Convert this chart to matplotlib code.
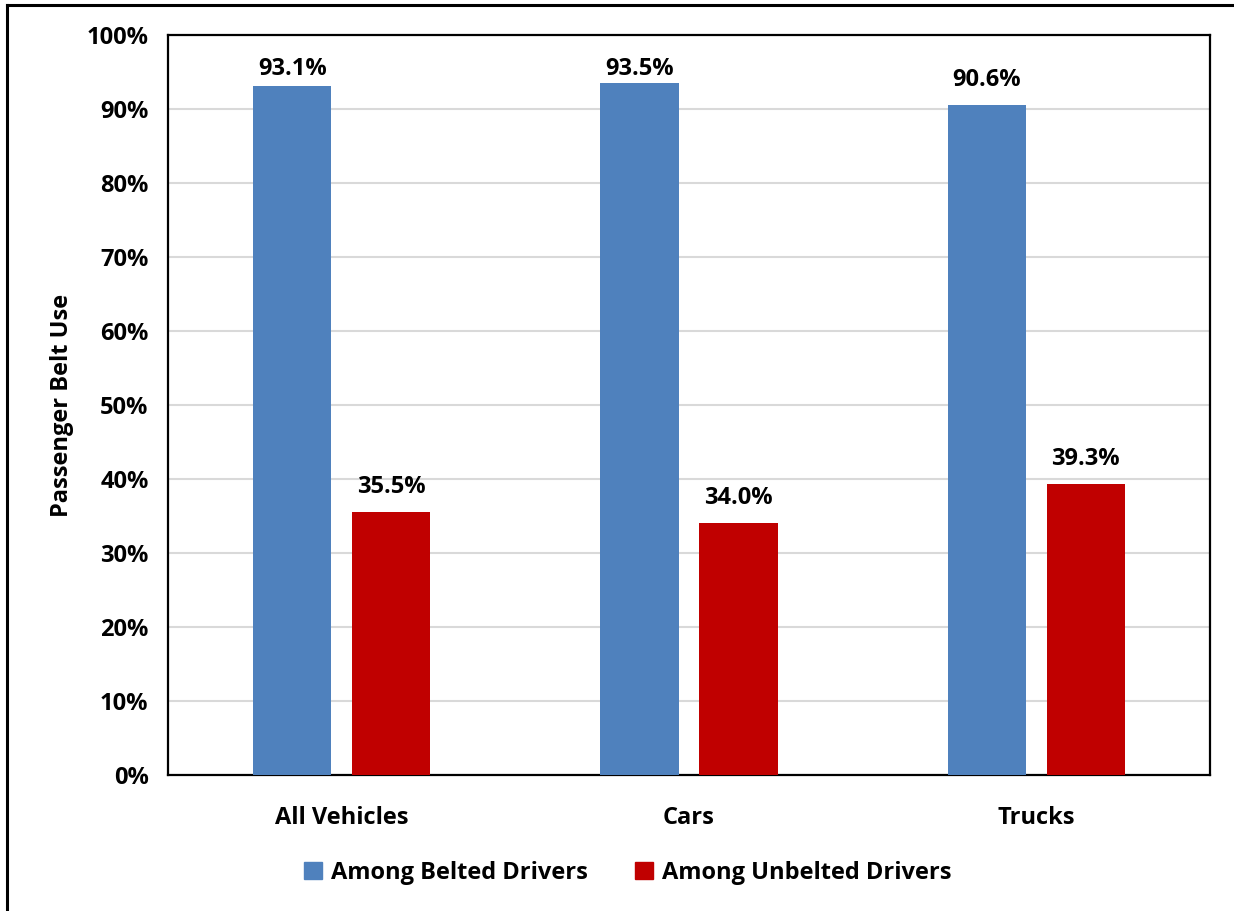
import numpy as np
import matplotlib
matplotlib.use("Agg")
import matplotlib.pyplot as plt
from matplotlib.lines import Line2D
from matplotlib.ticker import PercentFormatter

# belt use among passengers, by driver belt status
categories = ["All Vehicles", "Cars", "Trucks"]
belted = [93.1, 93.5, 90.6]
unbelted = [35.5, 34.0, 39.3]
series_names = ["Among Belted Drivers", "Among Unbelted Drivers"]
y_ticks = list(range(0, 101, 10))

BLUE = "#4F81BD"
RED = "#C00000"
FS = 17

plt.rcParams["font.family"] = ["Open Sans", "DejaVu Sans"]
plt.rcParams["font.weight"] = "bold"

W, H = 1234, 911
fig = plt.figure(figsize=(W / 100, H / 100), dpi=100)
ax = fig.add_axes([168 / W, 1 - 775 / H, (1210 - 168) / W, (775 - 35) / H])

x = np.arange(len(categories))
bw = 0.2246
off = 0.1425
b1 = ax.bar(x - off, belted, bw, color=BLUE, label=series_names[0], zorder=3)
b2 = ax.bar(x + off, unbelted, bw, color=RED, label=series_names[1], zorder=3)

ax.set_xlim(-0.5, len(categories) - 0.5)
ax.set_ylim(0, 100)
ax.set_yticks(y_ticks)
ax.yaxis.set_major_formatter(PercentFormatter(decimals=0))
ax.grid(axis="y", color="#D9D9D9", linewidth=1.5, zorder=0)
ax.tick_params(axis="both", length=0, labelsize=FS, pad=14)
ax.tick_params(axis="x", pad=22)
ax.set_xticks(x)
ax.set_xticklabels(categories)
for lbl in ax.get_xticklabels() + ax.get_yticklabels():
    lbl.set_fontweight("bold")
for sp in ax.spines.values():
    sp.set_linewidth(1.6)
    sp.set_color("black")

ax.set_ylabel("Passenger Belt Use", fontsize=FS, fontweight="bold", labelpad=9)

# value labels, kept inside the plot area for the tallest bars
px_per_unit = (775 - 35) / 100
for bars, vals in ((b1, belted), (b2, unbelted)):
    for rect, v in zip(bars, vals):
        y = min(v + 19 / px_per_unit, 94.6)
        ax.text(rect.get_x() + rect.get_width() / 2, y, f"{v:.1f}%",
                ha="center", va="baseline", fontsize=FS, fontweight="bold")

handles = [plt.Rectangle((0, 0), 1, 1, color=BLUE), plt.Rectangle((0, 0), 1, 1, color=RED)]
fig.legend(handles, series_names, loc="center", bbox_to_anchor=(628 / W, 1 - 873 / H),
           ncol=2, frameon=False, handlelength=0.75, handleheight=0.75,
           handletextpad=0.4, columnspacing=2.0, prop={"weight": "bold", "size": FS})

# outer frame (top and left edges)
fig.add_artist(Line2D([7 / W, 1], [1 - 5 / H, 1 - 5 / H], color="black", linewidth=2.2))
fig.add_artist(Line2D([7 / W, 7 / W], [0, 1 - 5 / H], color="black", linewidth=2.2))

fig.savefig("out.png", dpi=100)
